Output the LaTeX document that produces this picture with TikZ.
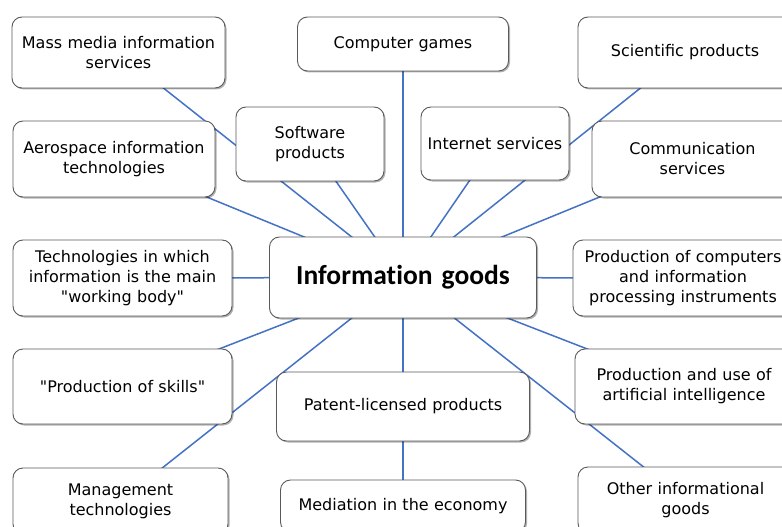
\documentclass[tikz,border=0pt]{standalone}
\usepackage{fontspec}
\setmainfont{DejaVu Sans}
\newfontfamily\headfont{Carlito}[Ligatures=NoCommon]
\usetikzlibrary{backgrounds, shadows}

\definecolor{linkblue}{RGB}{68,114,196}
\definecolor{boxline}{RGB}{90,90,90}

\tikzset{
  box/.style={rectangle,draw=boxline,fill=white,line width=0.9pt,rounded corners=10pt,
              align=center,inner xsep=4pt,inner ysep=0pt,
              font=\fontsize{16}{20}\selectfont,
              drop shadow={shadow xshift=1.5pt,shadow yshift=-1.5pt,opacity=0.3,fill=black}},
  link/.style={draw=linkblue,line width=1.5pt}
}

\begin{document}
\begin{tikzpicture}[x=1pt,y=-1pt]
  \clip (0,0) rectangle (782,527);
%
  \node(info)[box,text width=259pt,minimum height=81pt,font=\headfont\bfseries\fontsize{27.5}{32}\selectfont] at (403,277.5) {Information goods};
%
  \node(mass)[box,text width=205pt,minimum height=71pt] at (118.5,52.5) {Mass media information\\services};
  \node(games)[box,text width=203pt,minimum height=54pt] at (403,44) {Computer games};
  \node(sci)[box,text width=206pt,minimum height=71pt] at (685,52.5) {Scientific products};
%
  \node(soft)[box,text width=140pt,minimum height=74pt] at (310,144) {Software\\products};
  \node(inet)[box,text width=140pt,minimum height=73pt] at (495,143.5) {Internet services};
  \node(aero)[box,text width=194pt,minimum height=76pt] at (114,159) {Aerospace information\\technologies};
  \node(comm)[box,text width=193pt,minimum height=76pt] at (692.5,159) {Communication\\services};
%
  \node(tech)[box,text width=211pt,minimum height=76pt] at (122.5,278) {Technologies in which\\information is the main\\\textquotedbl working body\textquotedbl};
  \node(comp)[box,text width=212pt,minimum height=76pt] at (683,278) {Production of computers\\and information\\processing instruments};
%
  \node(skills)[box,text width=211pt,minimum height=75pt] at (122.5,386.5) {\textquotedbl Production of skills\textquotedbl};
  \node(patent)[box,text width=245pt,minimum height=69pt] at (403,406.5) {Patent-licensed products};
  \node(ai)[box,text width=210pt,minimum height=75pt] at (684,386.5) {Production and use of\\artificial intelligence};
%
  \node(mgmt)[box,text width=207pt,minimum height=66pt] at (120.5,501) {Management\\technologies};
  \node(med)[box,text width=237pt,minimum height=52pt] at (403,506) {Mediation in the economy};
  \node(other)[box,text width=207pt,minimum height=66pt] at (685.5,500) {Other informational\\goods};
%
\begin{scope}[on background layer]
\fill[white] (0,0) rectangle (782,527);
\draw[link](info.center)--(mass.center);
\draw[link](info.center)--(games.center);
\draw[link](info.center)--(sci.center);
\draw[link](info.center)--(soft.center);
\draw[link](info.center)--(inet.center);
\draw[link](info.center)--(aero.center);
\draw[link](info.center)--(comm.center);
\draw[link](info.center)--(tech.center);
\draw[link](info.center)--(comp.center);
\draw[link](info.center)--(skills.center);
\draw[link](info.center)--(patent.center);
\draw[link](info.center)--(ai.center);
\draw[link](info.center)--(mgmt.center);
\draw[link](info.center)--(med.center);
\draw[link](info.center)--(other.center);
\end{scope}
\end{tikzpicture}
\end{document}
